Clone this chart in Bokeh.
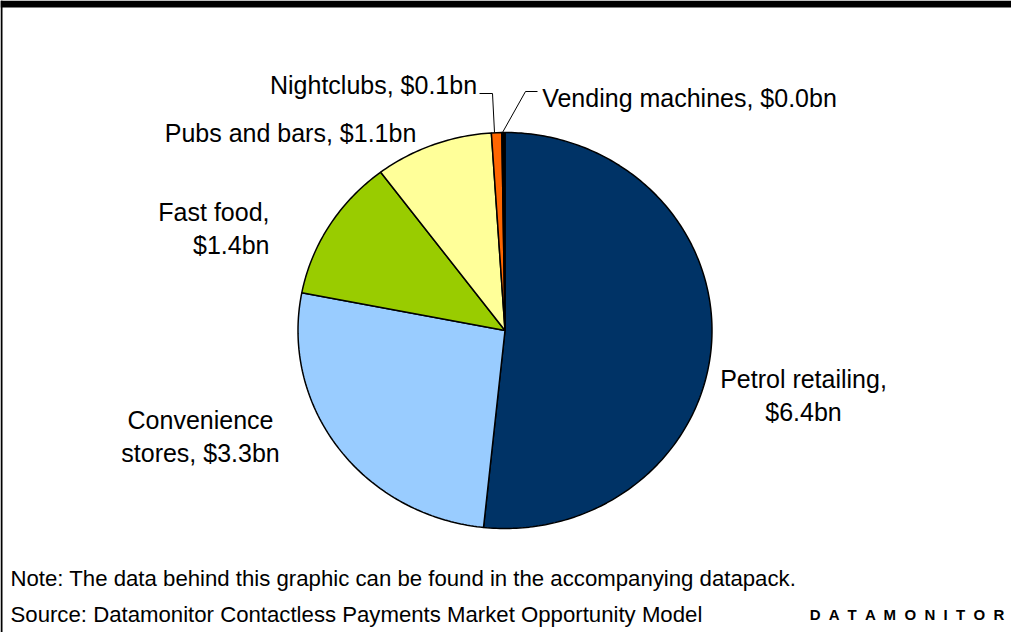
import numpy as np
from bokeh.plotting import figure
from bokeh.models import Range1d, ColumnDataSource
from bokeh.core.properties import value
from bokeh.embed import file_html
from bokeh.resources import INLINE

# ---- data ----
categories = ["Petrol retailing", "Convenience stores", "Fast food",
              "Pubs and bars", "Nightclubs", "Vending machines"]
values_bn = [6.4, 3.27, 1.45, 1.14, 0.10, 0.03]
labels = ["Petrol retailing,\n$6.4bn", "Convenience\nstores, $3.3bn", "Fast food,\n$1.4bn",
          "Pubs and bars, $1.1bn", "Nightclubs, $0.1bn", "Vending machines, $0.0bn"]
colors = ["#003366", "#99CCFF", "#99CC00", "#FFFF99", "#FF6600", "#000000"]
note_text = "Note: The data behind this graphic can be found in the accompanying datapack."
source_text = "Source: Datamonitor Contactless Payments Market Opportunity Model"
brand = "DATAMONITOR"

# ---- layout ----
W, H = 1011, 632
CX, CY, RX, RY = 504.5, 330.0, 207.0, 198.0
label_pos = [(803, 395), (200, 436), (269, 228), (290, 132), (373, 84), (689, 97)]
label_align = ["center", "center", "right", "center", "center", "center"]
FONT = "Liberation Sans"

p = figure(width=W, height=H, x_range=Range1d(0, W), y_range=Range1d(H, 0),
           x_axis_type=None, y_axis_type=None, toolbar_location=None,
           output_backend="svg", min_border=0, outline_line_color=None,
           background_fill_color="white", border_fill_color="white")
p.grid.visible = False

# frame: top bar and left border
p.quad(left=[0], right=[W], top=[0], bottom=[7], fill_color="black", line_color=None)
p.quad(left=[0], right=[2], top=[0], bottom=[H], fill_color="black", line_color=None)

# pie slices (clockwise from 12 o'clock), elliptical
vals = np.array(values_bn)
cum = np.concatenate([[0], np.cumsum(vals)]) / vals.sum() * 2 * np.pi
xs, ys = [], []
for a0, a1 in zip(cum[:-1], cum[1:]):
    n = max(3, int((a1 - a0) / (2 * np.pi) * 400))
    t = np.linspace(a0, a1, n)
    xs.append(list(np.concatenate([[CX], CX + RX * np.sin(t)])))
    ys.append(list(np.concatenate([[CY], CY - RY * np.cos(t)])))
src = ColumnDataSource(dict(xs=xs, ys=ys, color=colors, cat=categories))
p.patches("xs", "ys", source=src, fill_color="color", line_color="black", line_width=1.5)

# leader lines
p.line([479, 492, 494], [93, 93, 132], line_color="black", line_width=1)
p.line([537, 525, 502], [91, 91, 132], line_color="black", line_width=1)

# labels
lsrc = ColumnDataSource(dict(x=[q[0] for q in label_pos], y=[q[1] for q in label_pos],
                             t=labels, align=label_align))
p.text("x", "y", text="t", source=lsrc, text_align="align", text_baseline="middle",
       text_font=value(FONT), text_font_size="25px", text_color="black", text_line_height=1.15)

# footer
p.text([10], [578], text=[note_text], text_align="left", text_baseline="middle",
       text_font=value(FONT), text_font_size="22.2px", text_color="black")
p.text([10], [614], text=[source_text], text_align="left", text_baseline="middle",
       text_font=value(FONT), text_font_size="22.2px", text_color="black")
p.text([1005], [614], text=[" \u00a0".join(brand)], text_align="right", text_baseline="middle",
       text_font=value(FONT), text_font_size="15px", text_font_style="bold", text_color="black")

open("out.html", "w").write(file_html(p, INLINE))
